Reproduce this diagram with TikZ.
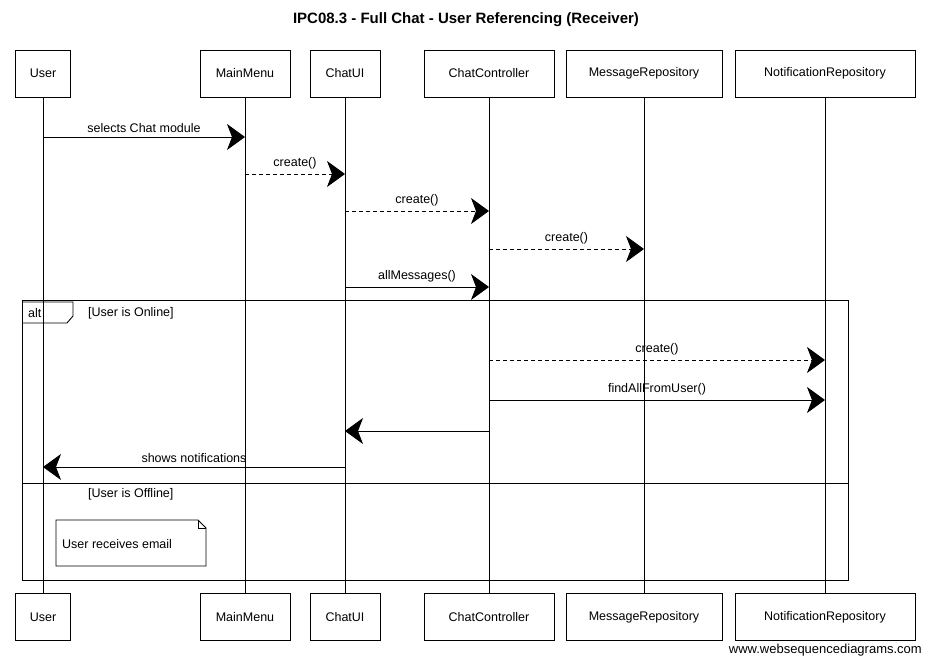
\documentclass[tikz,border=0pt]{standalone}
\usepackage{fontspec}
\setmainfont{Liberation Sans}
\usetikzlibrary{arrows.meta}
\begin{document}
\begin{tikzpicture}[x=1pt,y=-1pt,
  part/.style={draw,line width=1pt,minimum height=47pt,inner sep=2pt,font=\fontsize{12.5}{14}\selectfont},
  life/.style={line width=0.8pt},
  msg/.style={line width=0.9pt,-{Stealth[length=18pt,width=26pt,inset=5pt]}},
  ret/.style={msg,dash pattern=on 4pt off 3pt},
  lbl/.style={midway,above,inner sep=4pt,font=\fontsize{12.5}{14}\selectfont},
  frametxt/.style={font=\fontsize{12.5}{14}\selectfont,anchor=west,inner sep=0pt}]
\useasboundingbox (0,0) rectangle (931,664);
% title
\node[font=\bfseries\fontsize{15}{17}\selectfont] (title) at (466,20) {IPC08.3 - Full Chat - User Referencing (Receiver)};
% participants top
\node[part,minimum width=55pt]  (uT) at (43,73.5)  {User};
\node[part,minimum width=90pt]  (mT) at (245,73.5) {MainMenu};
\node[part,minimum width=70pt]  (cT) at (345,73.5) {ChatUI};
\node[part,minimum width=130pt] (kT) at (489,73.5) {ChatController};
\node[part,minimum width=156pt] (rT) at (644,73.5) {MessageRepository};
\node[part,minimum width=180pt] (nT) at (825,73.5) {NotificationRepository};
% participants bottom
\node[part,minimum width=55pt]  (uB) at (43,617)  {User};
\node[part,minimum width=90pt]  (mB) at (245,617) {MainMenu};
\node[part,minimum width=70pt]  (cB) at (345,617) {ChatUI};
\node[part,minimum width=130pt] (kB) at (489,617) {ChatController};
\node[part,minimum width=156pt] (rB) at (644,617) {MessageRepository};
\node[part,minimum width=180pt] (nB) at (825,617) {NotificationRepository};
% lifelines
\foreach \p in {u,m,c,k,r,n}{\draw[life] (\p T.south) -- (\p B.north);}
% message levels
\coordinate (y1) at (0,137);
\coordinate (y2) at (0,174);
\coordinate (y3) at (0,211);
\coordinate (y4) at (0,249);
\coordinate (y5) at (0,287);
\coordinate (y6) at (0,360);
\coordinate (y7) at (0,400);
\coordinate (y8) at (0,431);
\coordinate (y9) at (0,467);
% alt frame
\draw[line width=1pt] (22,300) rectangle (848,580);
\draw[line width=0.9pt] (22,302) -- (73,302) -- (73,316) -- (67,323) -- (22,323);
\node[frametxt] (altt) at (28,313) {alt};
\node[frametxt] (g1) at (88,313) {[User is Online]};
\draw[line width=0.9pt] (22,483) -- (848,483);
\node[frametxt] (g2) at (88,494) {[User is Offline]};
% note
\draw[line width=0.9pt] (56,520) -- (198,520) -- (206,528) -- (206,566) -- (56,566) -- cycle;
\draw[line width=0.6pt] (198,520) -- (198,528) -- (206,528);
\node[frametxt] (note) at (62,544) {User receives email};
% messages
\draw[msg] (uT |- y1) -- (mT |- y1) node[lbl] {selects Chat module};
\draw[ret] (mT |- y2) -- (cT |- y2) node[lbl] {create()};
\draw[ret] (cT |- y3) -- (kT |- y3) node[lbl] {create()};
\draw[ret] (kT |- y4) -- (rT |- y4) node[lbl] {create()};
\draw[msg] (cT |- y5) -- (kT |- y5) node[lbl] {allMessages()};
\draw[ret] (kT |- y6) -- (nT |- y6) node[lbl] {create()};
\draw[msg] (kT |- y7) -- (nT |- y7) node[lbl] {findAllFromUser()};
\draw[msg] (kT |- y8) -- (cT |- y8);
\draw[msg] (cT |- y9) -- (uT |- y9) node[lbl] {shows notifications};
% footer
\node[anchor=east,font=\fontsize{13}{15}\selectfont,inner sep=0pt] (foot) at (922,650) {www.websequencediagrams.com};
\end{tikzpicture}
\end{document}
